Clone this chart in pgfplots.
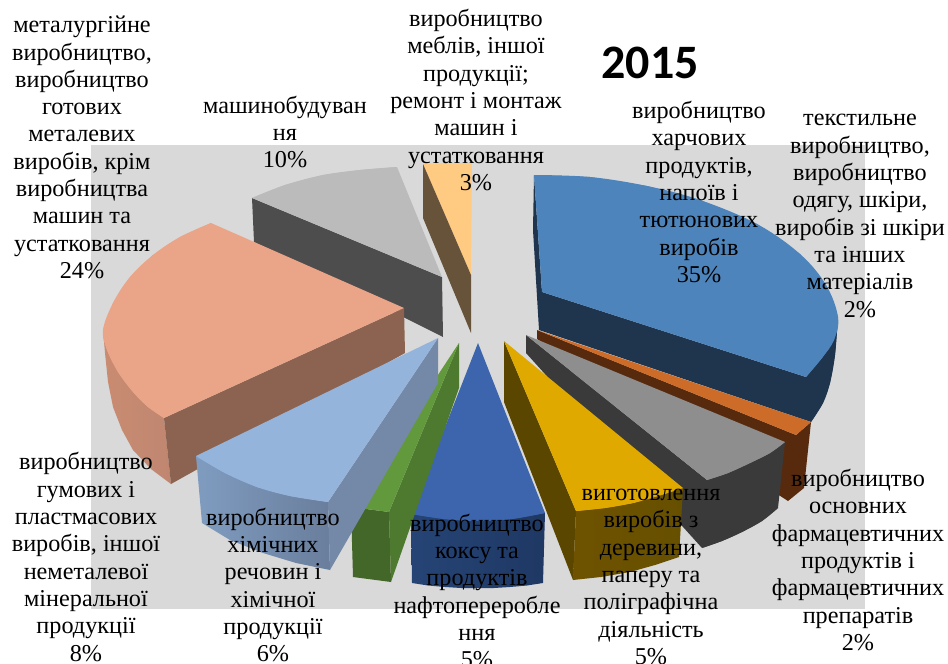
\documentclass[border=0pt]{standalone}
\usepackage{pgfplots}
\usepackage{fontspec}
\pgfplotsset{compat=1.18}
\setmainfont{Liberation Serif}
\newfontfamily\carlito{Carlito}
\definecolor{bg}{HTML}{D9D9D9}
\newcommand{\dc}[1]{\definecolor{#1}{HTML}{#1}}
\dc{FFCB82}\dc{67533A}\dc{4D4D4D}\dc{BBBBBB}\dc{C98C72}\dc{C08670}\dc{8C6350}\dc{EAA488}
\dc{1F344D}\dc{4E84BC}\dc{572A0E}\dc{CC6C28}\dc{3A3A3A}\dc{8E8E8E}\dc{5B4600}\dc{6E5200}
\dc{665000}\dc{DFA900}\dc{254475}\dc{1F3864}\dc{3C65AD}\dc{436629}\dc{4E7A30}\dc{63993D}
\dc{7F9CC0}\dc{6A7E9C}\dc{7489A8}\dc{95B4DC}
\newcommand{\face}[2]{\addplot[fill=#1,draw=none,forget plot] coordinates {#2};}
\newcommand{\sm}[2]{\addplot[fill=#1,draw=none,smooth,tension=0.6,forget plot] coordinates {#2};}
\newcommand{\gface}[3]{\addplot[left color=#1,right color=#2,draw=none,forget plot] coordinates {#3};}
\newcommand{\lab}[3]{\node[align=center,inner sep=0pt,anchor=center,font=\fontsize{24.2}{27.3}\selectfont] at (axis cs:#1,#2) {#3};}
\begin{document}
\begin{tikzpicture}
\path[use as bounding box] (0,0) rectangle (948pt,664pt);
\begin{axis}[at={(0,0)},anchor=south west,width=948pt,height=664pt,scale only axis,
  xmin=0,xmax=948,ymin=0,ymax=664,y dir=reverse,hide axis,clip=false]
% background
\face{bg}{(91,145)(865,145)(865,609)(91,609)}
% light orange 3%
\face{FFCB82}{(423,164)(447,163)(472,163)(471,275)}
\face{67533A}{(423,164)(471,275)(471,333)(423,218)}
% grey 10%
\face{4D4D4D}{(252,198)(442,277)(443,337)(254,242)}
\face{BBBBBB}{(252,198)(285,185)(323,175)(360,170)(397,167)(442,277)}
\sm{BBBBBB}{(252,198)(285,185)(323,175)(360,170)(397,167)}
% salmon 24%
\gface{C98C72}{C08670}{(103,330)(105,353)(108,382)(113,407)(122,430)(133,450)(151,469)(171,484)(164,418)}
\face{8C6350}{(404,308)(405,353)(171,484)(164,418)}
\face{EAA488}{(211,223)(180,237)(153,255)(130,277)(113,303)(103,330)(107,350)(118,372)(133,392)(148,407)(164,418)(404,308)}
\sm{EAA488}{(211,223)(180,237)(153,255)(130,277)(113,303)(103,330)(107,350)(118,372)(133,392)(148,407)(164,418)}
% big blue 35%
\face{1F344D}{(534,175)(533,230)(539,330)(811,422)(823,403)(830,383)(835,355)(838,317)(806,377)(542,292)}
\sm{1F344D}{(811,422)(823,403)(830,383)(835,355)(838,317)}
\face{4E84BC}{(534,175)(590,177)(647,186)(700,200)(757,224)(800,254)(826,285)(838,317)(834,340)(822,358)(806,377)(542,292)}
\sm{4E84BC}{(534,175)(590,177)(647,186)(700,200)(757,224)(800,254)(826,285)(838,317)(834,340)(822,358)(806,377)}
% orange 2%
\face{572A0E}{(537,330)(796,435)(811,422)(804,488)(788,501)(537,339)}
\face{CC6C28}{(537,330)(811,422)(796,435)}
% dark grey
\face{3A3A3A}{(526,335)(707,480)(785,442)(778,508)(762,521)(742,532)(722,541)(702,548)(526,353)}
\sm{3A3A3A}{(778,508)(762,521)(742,532)(722,541)(702,548)}
\face{8E8E8E}{(526,335)(785,442)(770,453)(750,463)(728,473)(707,480)}
\sm{8E8E8E}{(785,442)(770,453)(750,463)(728,473)(707,480)}
% gold 5%
\face{5B4600}{(504,341)(576,511)(573,580)(504,402)}
\gface{6E5200}{665000}{(576,511)(633,503)(683,488)(679,557)(655,565)(630,572)(601,577)(573,580)}
\face{DFA900}{(504,341)(683,488)(658,496)(633,503)(605,508)(576,511)}
\sm{DFA900}{(683,488)(658,496)(633,503)(605,508)(576,511)}
% blue 5%
\gface{254475}{1F3864}{(411,514)(545,513)(543,583)(527,585.5)(510,587)(494,588)(478,588)(461,588)(445,587)(428,585.5)(412,583)}
\face{3C65AD}{(478,343)(545,513)(512,519)(478,521)(444,519)(411,514)}
\sm{3C65AD}{(545,513)(512,519)(478,521)(444,519)(411,514)}
% green
\face{436629}{(351,507)(389,512)(391,582)(353,577)}
\face{4E7A30}{(459,343)(459,388)(391,582)(389,512)}
\face{63993D}{(459,343)(389,512)(351,507)}
% light blue 8%
\gface{7F9CC0}{6A7E9C}{(196,456)(257,487)(328,502)(330,570)(296,563)(263,553)(230,540)(202,523)}
\face{7489A8}{(438,338)(438,383)(330,570)(328,502)}
\face{95B4DC}{(438,338)(328,502)(290,496)(257,487)(225,473)(196,456)}
\sm{95B4DC}{(328,502)(290,496)(257,487)(225,473)(196,456)}
% title
\node[inner sep=0pt,font=\fontsize{48}{50}\selectfont\carlito\bfseries] at (axis cs:650,63) {2015};
% labels
\lab{82}{147.5}{металургійне\\виробництво,\\виробництво\\готових\\металевих\\виробів, крім\\виробництва\\машин та\\устатковання\\24\%}
\lab{285}{132}{машинобудуван\\ня\\10\%}
\lab{476}{100}{виробництво\\меблів, іншої\\продукції;\\ремонт і монтаж\\машин і\\устатковання\\3\%}
\lab{699}{192}{виробництво\\харчових\\продуктів,\\напоїв і\\тютюнових\\виробів\\35\%}
\lab{860}{216}{текстильне\\виробництво,\\виробництво\\одягу, шкіри,\\виробів зі шкіри\\та інших\\матеріалів\\2\%}
\lab{858}{560}{виробництво\\основних\\фармацевтичних\\продуктів і\\фармацевтичних\\препаратів\\2\%}
\lab{651}{577}{виготовлення\\виробів з\\деревини,\\паперу та\\поліграфічна\\діяльність\\5\%}
\lab{477}{591}{виробництво\\коксу та\\продуктів\\нафтопереробле\\ння\\5\%}
\lab{273}{585}{виробництво\\хімічних\\речовин і\\хімічної\\продукції\\6\%}
\lab{86}{557}{виробництво\\гумових і\\пластмасових\\виробів, іншої\\неметалевої\\мінеральної\\продукції\\8\%}
\end{axis}
\end{tikzpicture}
\end{document}
